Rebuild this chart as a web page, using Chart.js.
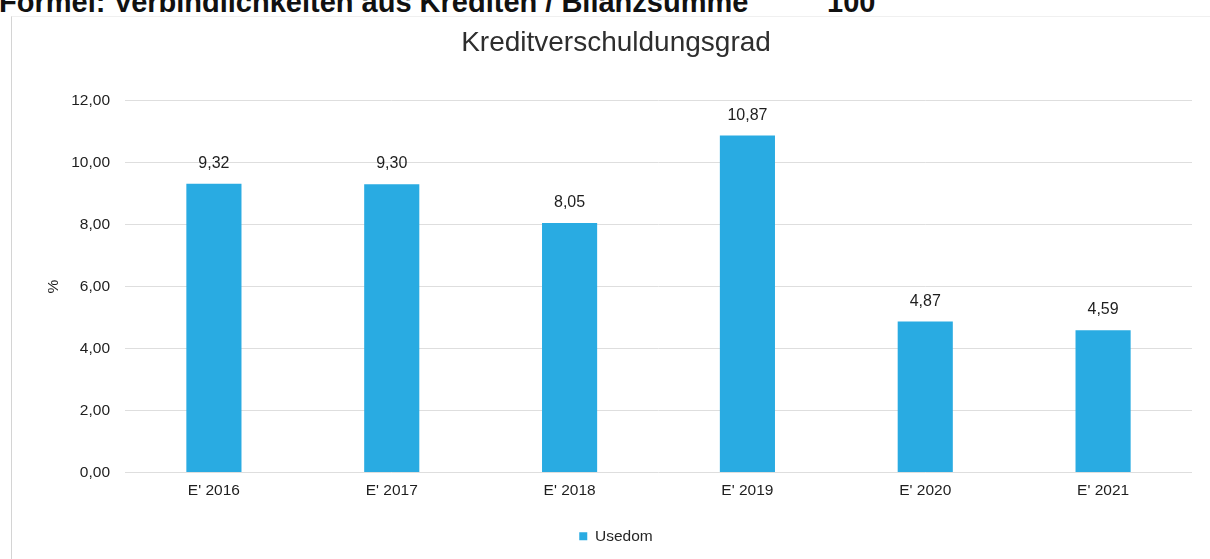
<!DOCTYPE html>
<html lang="de">
<head>
<meta charset="utf-8">
<title>Kreditverschuldungsgrad</title>
<script src="https://cdn.jsdelivr.net/npm/chart.js@4.4.1/dist/chart.umd.min.js"></script>
<style>
    html, body {
        margin: 0;
        padding: 0;
        background: #ffffff;
        overflow: hidden;
    }

    .seite {
        position: relative;
        width: 1210px;
        height: 559px;
        overflow: hidden;
        background: #ffffff;
    }

    .formel {
        position: absolute;
        top: -12px;
        left: -1px;
        font-family: "Liberation Sans", Arial, sans-serif;
        font-weight: bold;
        font-size: 29px;
        line-height: 29px;
        color: #111111;
        white-space: pre;
    }

    .formel-faktor {
        position: absolute;
        top: -12px;
        left: 827px;
        font-family: "Liberation Sans", Arial, sans-serif;
        font-weight: bold;
        font-size: 29px;
        line-height: 29px;
        color: #111111;
        white-space: pre;
    }

    .rahmen {
        position: absolute;
        left: 11px;
        top: 16px;
        width: 1220px;
        height: 600px;
        border-left: 1px solid #d4d4d4;
        border-top: 1px solid #f0f0f0;
    }

    #kreditChart {
        position: absolute;
        left: 0;
        top: 0;
    }
</style>
</head>
<body>

<div class="seite">
    <div class="rahmen"></div>
    <div class="formel">Formel: Verbindlichkeiten aus Krediten / Bilanzsumme</div>
    <div class="formel-faktor">100</div>
    <canvas id="kreditChart" width="1210" height="559"></canvas>
</div>

<script>

// ======================================
// DATEN
// ======================================

const jahre = ["E' 2016", "E' 2017", "E' 2018", "E' 2019", "E' 2020", "E' 2021"];

const usedom = [9.32, 9.30, 8.05, 10.87, 4.87, 4.59];

const yMin = 0;
const yMax = 12;
const ySchritt = 2;


// ======================================
// HILFSFUNKTIONEN
// ======================================

const schrift = "'Liberation Sans', Arial, sans-serif";

function formatZahl(wert) {

    return Number(wert).toFixed(2).replace(".", ",");

}


// ======================================
// WERTE ÜBER DEN BALKEN
// ======================================

const wertBeschriftung = {

    id: "wertBeschriftung",

    afterDatasetsDraw(chart) {

        const ctx = chart.ctx;
        const meta = chart.getDatasetMeta(0);

        ctx.save();
        ctx.font = "16px " + schrift;
        ctx.fillStyle = "#1e1e1e";
        ctx.textAlign = "center";
        ctx.textBaseline = "alphabetic";

        meta.data.forEach((balken, i) => {

            ctx.fillText(formatZahl(usedom[i]), balken.x, balken.y - 16);

        });

        ctx.restore();

    }

};


// ======================================
// DIAGRAMM
// ======================================

const canvas = document.getElementById("kreditChart");

new Chart(canvas, {

    type: "bar",

    data: {

        labels: jahre,

        datasets: [{

            label: "Usedom",

            data: usedom,

            backgroundColor: "#29abe2",

            borderWidth: 0,

            categoryPercentage: 1,

            barPercentage: 0.31

        }]

    },

    options: {

        responsive: false,

        animation: false,

        devicePixelRatio: 1,

        layout: {

            padding: { left: 40, right: 18, top: 0, bottom: 5 }

        },

        plugins: {

            title: {

                display: true,
                text: "Kreditverschuldungsgrad",
                color: "#2e2e2e",
                font: { family: schrift, size: 28, weight: "normal" },
                padding: { top: 26, bottom: 41 }

            },

            legend: {

                position: "bottom",

                labels: {

                    boxWidth: 8,
                    boxHeight: 8,
                    padding: 10,
                    color: "#262626",
                    font: { family: schrift, size: 15.5 }

                }

            },

            tooltip: { enabled: false }

        },

        scales: {

            x: {

                grid: { display: false, drawTicks: false },

                border: { display: false },

                ticks: {

                    color: "#1e1e1e",
                    padding: 9,
                    font: { family: schrift, size: 15.5 }

                },

                afterFit(scale) {

                    scale.height = 46;

                }

            },

            y: {

                min: yMin,

                max: yMax,

                grid: { color: "#dedede", lineWidth: 1, drawTicks: false },

                border: { display: false },

                ticks: {

                    stepSize: ySchritt,
                    color: "#1e1e1e",
                    padding: 15,
                    font: { family: schrift, size: 15.5 },
                    callback: value => formatZahl(value)

                },

                title: {

                    display: true,
                    text: "%",
                    color: "#1e1e1e",
                    font: { family: schrift, size: 15.5 }

                },

                afterFit(scale) {

                    scale.width = 85;

                }

            }

        }

    },

    plugins: [wertBeschriftung]

});

</script>

</body>
</html>
